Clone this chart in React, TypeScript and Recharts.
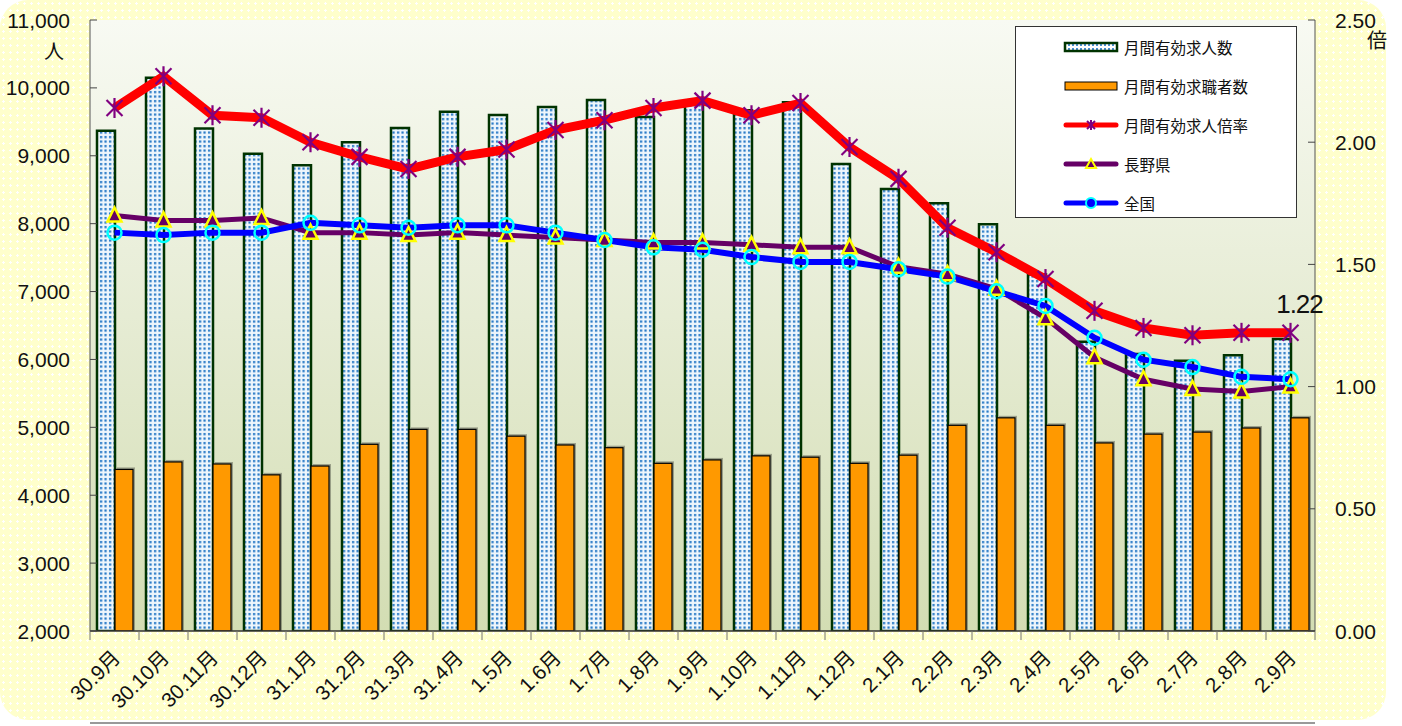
import { ComposedChart, Bar, Line, XAxis, YAxis, CartesianGrid, Legend } from 'recharts';

const months = ['30.9月', '30.10月', '30.11月', '30.12月', '31.1月', '31.2月', '31.3月', '31.4月', '1.5月', '1.6月', '1.7月', '1.8月', '1.9月', '1.10月', '1.11月', '1.12月', '2.1月', '2.2月', '2.3月', '2.4月', '2.5月', '2.6月', '2.7月', '2.8月', '2.9月'];
const openings = [9370, 10150, 9400, 9030, 8860, 9200, 9410, 9650, 9600, 9720, 9820, 9570, 9780, 9670, 9790, 8880, 8510, 8300, 7990, 7250, 6260, 6080, 5980, 6060, 6300];
const seekers = [4380, 4490, 4460, 4300, 4430, 4750, 4970, 4970, 4870, 4740, 4700, 4470, 4520, 4580, 4560, 4470, 4590, 5030, 5140, 5030, 4770, 4900, 4930, 4990, 5140];
const ratio = [2.14, 2.27, 2.11, 2.10, 2.00, 1.94, 1.89, 1.94, 1.97, 2.05, 2.09, 2.14, 2.17, 2.11, 2.16, 1.98, 1.85, 1.65, 1.55, 1.44, 1.31, 1.24, 1.21, 1.22, 1.22];
const nagano = [1.70, 1.68, 1.68, 1.69, 1.63, 1.63, 1.62, 1.63, 1.62, 1.61, 1.60, 1.59, 1.59, 1.58, 1.57, 1.57, 1.49, 1.46, 1.40, 1.28, 1.12, 1.03, 0.99, 0.98, 1.00];
const national = [1.63, 1.62, 1.63, 1.63, 1.67, 1.66, 1.65, 1.66, 1.66, 1.63, 1.60, 1.57, 1.56, 1.53, 1.51, 1.51, 1.48, 1.45, 1.39, 1.33, 1.20, 1.11, 1.08, 1.04, 1.03];

const leftTicks = [2000, 3000, 4000, 5000, 6000, 7000, 8000, 9000, 10000, 11000];
const rightTicks = [0, 0.5, 1, 1.5, 2, 2.5];

const data = months.map((m, i) => ({
  month: m,
  openings: openings[i],
  seekers: seekers[i],
  ratio: ratio[i],
  nagano: nagano[i],
  national: national[i],
}));

const FONT = '"Liberation Sans", Arial, "Noto Sans CJK JP", sans-serif';
const BAND = 49;

const LeftTick = ({ x, y, payload }: any) => (
  <g>
    <line x1={x} x2={x + 7} y1={y} y2={y} stroke="#444" />
    <text x={x - 20} y={y} textAnchor="end" dominantBaseline="central" fontSize={21} fontFamily={FONT} fill="#111">
      {Number(payload.value).toLocaleString('en-US')}
    </text>
  </g>
);

const RightTick = ({ x, y, payload }: any) => (
  <g>
    <line x1={x - 7} x2={x} y1={y} y2={y} stroke="#444" />
    <text x={x + 20} y={y} textAnchor="start" dominantBaseline="central" fontSize={21} fontFamily={FONT} fill="#111">
      {Number(payload.value).toFixed(2)}
    </text>
  </g>
);

const MonthTick = ({ x, y, payload, index }: any) => (
  <g>
    <line x1={x - BAND / 2} x2={x - BAND / 2} y1={y} y2={y + 9} stroke="#777" />
    {index === months.length - 1 && <line x1={x + BAND / 2} x2={x + BAND / 2} y1={y} y2={y + 9} stroke="#777" />}
    <text
      transform={`translate(${x + 7},${y + 28}) rotate(-45)`}
      textAnchor="end"
      fontSize={20.5}
      fontFamily={FONT}
      fill="#111"
    >
      {payload.value}
    </text>
  </g>
);

const StarDot = ({ cx, cy, index }: any) => (
  <g key={`s-${index}`} stroke="#800080" strokeWidth={2.2}>
    <line x1={cx - 8} y1={cy - 8} x2={cx + 8} y2={cy + 8} />
    <line x1={cx - 8} y1={cy + 8} x2={cx + 8} y2={cy - 8} />
    <line x1={cx} y1={cy - 10} x2={cx} y2={cy + 10} />
  </g>
);

const TriDot = ({ cx, cy, index }: any) => (
  <polygon
    key={`t-${index}`}
    points={`${cx},${cy - 8} ${cx + 7},${cy + 6} ${cx - 7},${cy + 6}`}
    fill="#660066"
    stroke="#ffff00"
    strokeWidth={2.5}
  />
);

const RingDot = ({ cx, cy, index }: any) => (
  <circle key={`c-${index}`} cx={cx} cy={cy} r={7} fill="none" stroke="#00ffff" strokeWidth={2.5} />
);

const SeekerBar = ({ x, y, width, height }: any) => (
  <g>
    <rect x={x + 2} y={y - 2} width={width} height={height + 2} fill="#000" opacity={0.3} />
    <rect x={x} y={y} width={width} height={height} fill="#ff9900" stroke="#000" strokeWidth={1.2} />
  </g>
);

const LastLabel = ({ x, y, index }: any) =>
  index === ratio.length - 1 ? (
    <text x={x + 9} y={y - 20} textAnchor="middle" fontSize={26} fontFamily={FONT} fill="#111" letterSpacing={-1}>
      {ratio[ratio.length - 1].toFixed(2)}
    </text>
  ) : null;

const legendRows = [
  { name: '月間有効求人数', kind: 'dots' },
  { name: '月間有効求職者数', kind: 'orange' },
  { name: '月間有効求人倍率', kind: 'ratio' },
  { name: '長野県', kind: 'nagano' },
  { name: '全国', kind: 'national' },
];

const LegendIcon = ({ kind }: { kind: string }) => (
  <svg width={56} height={16} style={{ display: 'block' }}>
    <defs>
      <pattern id="dotsLegend" width="4" height="4" patternUnits="userSpaceOnUse">
        <rect width="4" height="4" fill="#ffffff" />
        <rect x="1" y="1" width="2" height="2" fill="#4a90d0" />
      </pattern>
    </defs>
    {kind === 'dots' && <rect x={2} y={4} width={52} height={8} fill="url(#dotsLegend)" stroke="#003300" strokeWidth={2.5} />}
    {kind === 'orange' && <rect x={2} y={4} width={52} height={8} fill="#ff9900" stroke="#000" strokeWidth={1} />}
    {kind === 'ratio' && (
      <g>
        <line x1={3} x2={53} y1={8} y2={8} stroke="#ff0000" strokeWidth={5} strokeLinecap="round" />
        <g stroke="#800080" strokeWidth={2}>
          <line x1={24} y1={4} x2={32} y2={12} />
          <line x1={24} y1={12} x2={32} y2={4} />
          <line x1={28} y1={3} x2={28} y2={13} />
        </g>
      </g>
    )}
    {kind === 'nagano' && (
      <g>
        <line x1={3} x2={53} y1={8} y2={8} stroke="#660066" strokeWidth={5} strokeLinecap="round" />
        <polygon points="28,3 33,12 23,12" fill="#660066" stroke="#ffff00" strokeWidth={2} />
      </g>
    )}
    {kind === 'national' && (
      <g>
        <line x1={3} x2={53} y1={8} y2={8} stroke="#0000ff" strokeWidth={5} strokeLinecap="round" />
        <circle cx={28} cy={8} r={5} fill="#0000ff" stroke="#00ffff" strokeWidth={2} />
      </g>
    )}
  </svg>
);

const LegendBox = () => (
  <div
    style={{
      width: 282,
      height: 192,
      background: '#fff',
      border: '1px solid #333',
      boxSizing: 'border-box',
      paddingTop: 0,
    }}
  >
    {legendRows.map((r) => (
      <div key={r.name} style={{ display: 'flex', alignItems: 'center', height: 39, marginLeft: 47 }}>
        <LegendIcon kind={r.kind} />
        <span style={{ marginLeft: 5, fontSize: 15.5, fontFamily: FONT, color: '#111' }}>{r.name}</span>
      </div>
    ))}
  </div>
);

export default function App() {
  return (
    <div style={{ position: 'absolute', left: 0, top: 0, width: 1402, height: 726, background: '#fff', overflow: 'hidden' }}>
      <div
        style={{
          position: 'absolute',
          left: 0,
          top: 0,
          width: 1386,
          height: 720,
          borderRadius: 28,
          backgroundColor: '#ffffcc',
          backgroundImage: 'radial-gradient(#ffffff 1px, transparent 1.3px)',
          backgroundSize: '7px 7px',
        }}
      />
      <div style={{ position: 'absolute', left: 90, top: 722, width: 1225, height: 2, background: '#999' }} />
      <div style={{ position: 'absolute', left: 44, top: 36, fontSize: 20, fontFamily: FONT, color: '#111' }}>人</div>
      <div style={{ position: 'absolute', left: 1367, top: 25, fontSize: 20, fontFamily: FONT, color: '#111' }}>倍</div>
      <div style={{ position: 'absolute', left: 0, top: 0 }}>
        <ComposedChart width={1402} height={726} data={data} margin={{ top: 20, right: 0, bottom: 0, left: 0 }} barSize={18} barGap={0}>
          <defs>
            <linearGradient id="plotBg" x1="0" y1="0" x2="0" y2="1">
              <stop offset="0%" stopColor="#f8faf3" />
              <stop offset="100%" stopColor="#d3ddb3" />
            </linearGradient>
            <pattern id="dotsFill" width="4.5" height="4.5" patternUnits="userSpaceOnUse">
              <rect width="4.5" height="4.5" fill="#eef6fc" />
              <rect x="1" y="1" width="2.2" height="2.2" fill="#1f74c4" />
            </pattern>
          </defs>
          <CartesianGrid yAxisId="left" horizontal={false} vertical={false} fill="url(#plotBg)" stroke="none" />
          <XAxis
            dataKey="month"
            height={95}
            interval={0}
            tickSize={0}
            tickMargin={0}
            tick={<MonthTick />}
            axisLine={{ stroke: '#333', strokeWidth: 1.5 }}
            tickLine={false}
          />
          <YAxis
            yAxisId="left"
            width={90}
            domain={[2000, 11000]}
            ticks={leftTicks}
            allowDataOverflow
            tickSize={0}
            tickMargin={0}
            tick={<LeftTick />}
            tickLine={false}
            axisLine={{ stroke: '#555' }}
          />
          <YAxis
            yAxisId="right"
            orientation="right"
            width={87}
            domain={[0, 2.5]}
            ticks={rightTicks}
            allowDataOverflow
            tickSize={0}
            tickMargin={0}
            tick={<RightTick />}
            tickLine={false}
            axisLine={{ stroke: '#555' }}
          />
          <Legend
            layout="vertical"
            align="center"
            verticalAlign="middle"
            content={() => <LegendBox />}
            wrapperStyle={{ position: 'absolute', left: 1015, top: 26, width: 282, height: 192 }}
          />
          <Bar yAxisId="left" dataKey="openings" name="月間有効求人数" fill="url(#dotsFill)" stroke="#003300" strokeWidth={2.5} isAnimationActive={false} />
          <Bar yAxisId="left" dataKey="seekers" name="月間有効求職者数" fill="#ff9900" shape={<SeekerBar />} isAnimationActive={false} />
          <Line
            yAxisId="right"
            dataKey="ratio"
            name="月間有効求人倍率"
            type="linear"
            stroke="#ff0000"
            strokeWidth={9}
            dot={(p: any) => <StarDot key={`s-${p.index}`} {...p} />}
            label={(p: any) => <LastLabel key={`l-${p.index}`} {...p} />}
            isAnimationActive={false}
          />
          <Line
            yAxisId="right"
            dataKey="nagano"
            name="長野県"
            type="linear"
            stroke="#660066"
            strokeWidth={5}
            dot={(p: any) => <TriDot key={`t-${p.index}`} {...p} />}
            isAnimationActive={false}
          />
          <Line
            yAxisId="right"
            dataKey="national"
            name="全国"
            type="linear"
            stroke="#0000ff"
            strokeWidth={6}
            dot={(p: any) => <RingDot key={`c-${p.index}`} {...p} />}
            isAnimationActive={false}
          />
        </ComposedChart>
      </div>
    </div>
  );
}
